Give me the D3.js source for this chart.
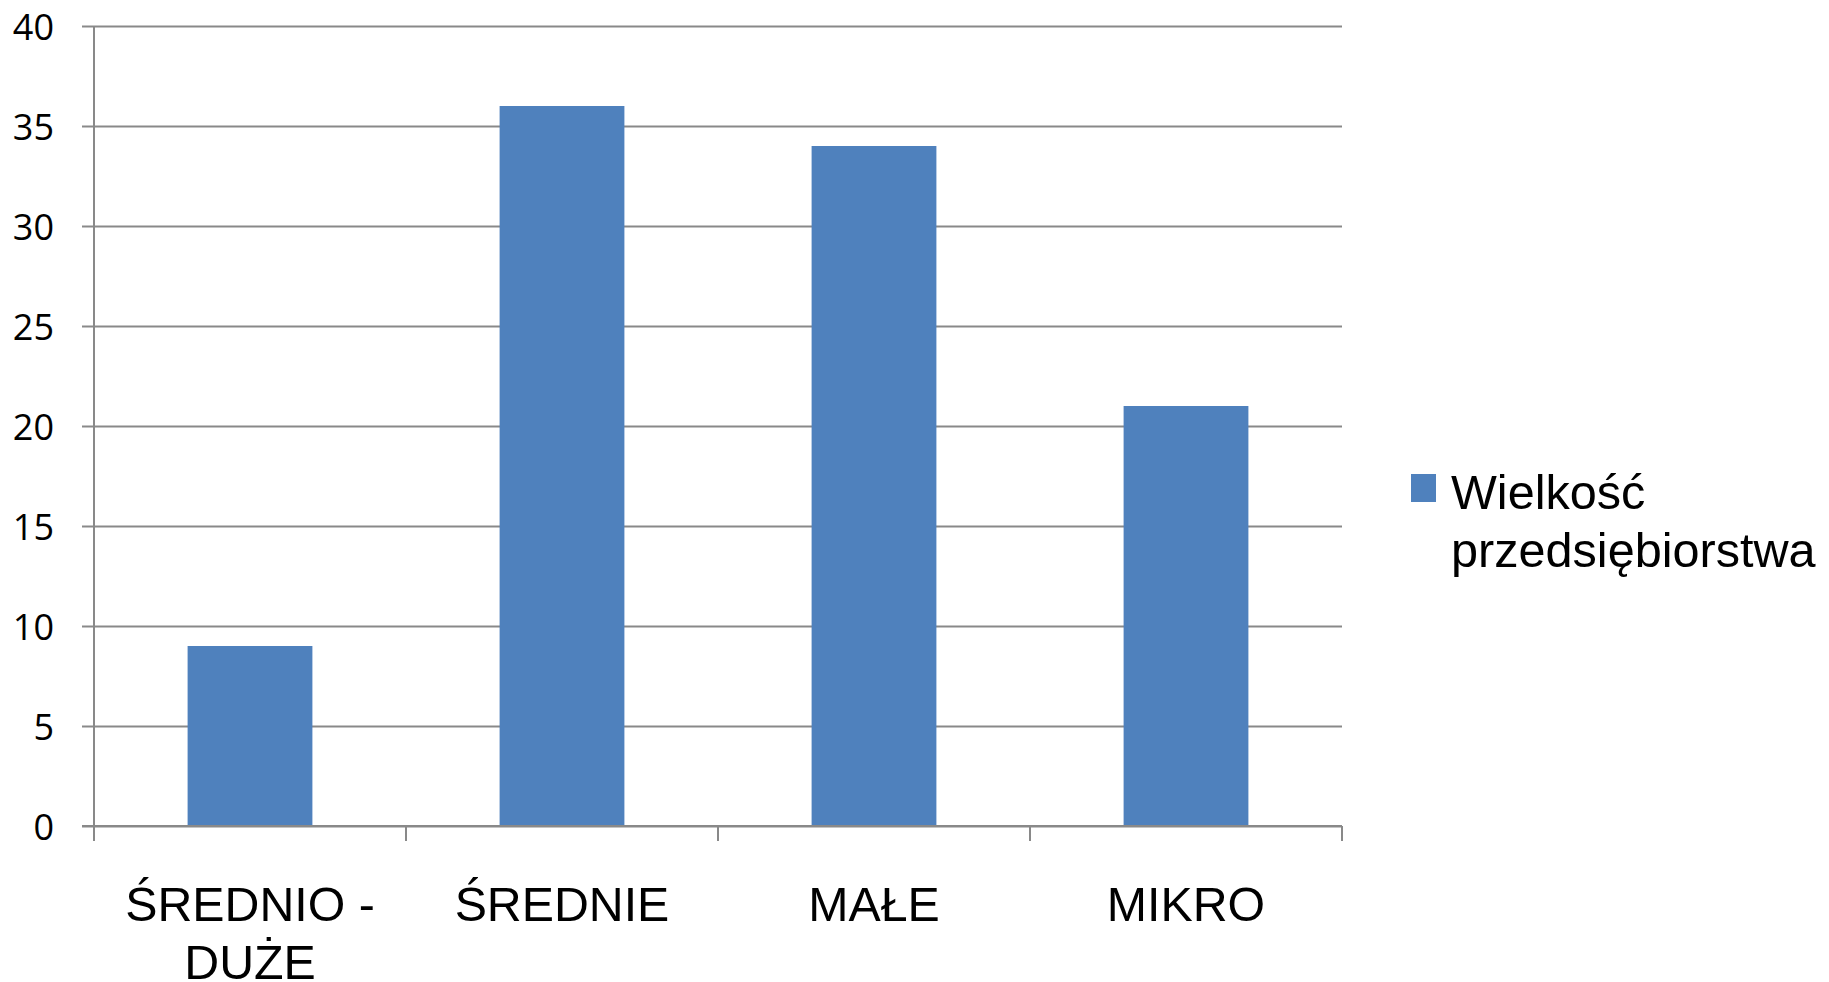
<!DOCTYPE html>
<html>
<head>
<meta charset="utf-8">
<script src="https://cdn.jsdelivr.net/npm/d3@7"></script>
<style>
  body { margin: 0; background: #fff; }
  svg { display: block; }
</style>
</head>
<body>
<svg id="chart" width="1829" height="982"></svg>
<script>
// data
const categories = ["ŚREDNIO - DUŻE", "ŚREDNIE", "MAŁE", "MIKRO"];
const values = [9, 36, 34, 21];
const yTicks = [0, 5, 10, 15, 20, 25, 30, 35, 40];
const seriesName = ["Wielkość", "przedsiębiorstwa"];

const width = 1829, height = 982;
const margin = { left: 94, top: 26, right: 487 };
const plotW = width - margin.left - margin.right; // 1248
const plotH = 800;

const svg = d3.select("#chart");
const g = svg.append("g").attr("transform", `translate(${margin.left},${margin.top})`);

const y = d3.scaleLinear().domain([0, 40]).range([plotH, 0]);

// category slots (tick marks sit on their edges)
const xSlot = d3.scaleBand().domain(categories).range([0, plotW]).padding(0);
// bars take 40% of each slot
const x = d3.scaleBand().domain(categories).range([0, plotW]).paddingInner(0.6).paddingOuter(0.3);

const gridColor = "#898989";

// horizontal gridlines
g.append("g")
    .call(d3.axisLeft(y).tickValues(yTicks).tickSize(-plotW).tickFormat(""))
    .call(a => a.select(".domain").remove())
    .call(a => a.selectAll("line").attr("stroke", gridColor).attr("stroke-width", 2));

// bars
g.selectAll("rect.bar")
    .data(values)
    .enter()
    .append("rect")
    .attr("class", "bar")
    .attr("x", (d, i) => x(categories[i]))
    .attr("y", d => y(d))
    .attr("width", x.bandwidth())
    .attr("height", d => plotH - y(d))
    .attr("fill", "#4F81BD");

// y axis with labels
const yAxis = g.append("g")
    .call(d3.axisLeft(y).tickValues(yTicks).tickSize(12).tickPadding(28).tickSizeOuter(0))
    .call(a => a.select(".domain").remove())
    .call(a => a.selectAll("line").attr("stroke", gridColor).attr("stroke-width", 2));
yAxis.selectAll("text")
    .attr("font-family", "'Open Sans', sans-serif")
    .attr("font-size", 36)
    .attr("fill", "#000")
    .attr("dy", "0.38em");

// vertical axis line, runs down to the tick marks
g.append("line")
    .attr("x1", 0).attr("x2", 0)
    .attr("y1", y(40)).attr("y2", plotH + 15)
    .attr("stroke", gridColor).attr("stroke-width", 2);

// x axis line
g.append("line")
    .attr("x1", -12).attr("x2", plotW)
    .attr("y1", plotH).attr("y2", plotH)
    .attr("stroke", gridColor).attr("stroke-width", 2);

// category edge ticks
const edges = categories.map(c => xSlot(c)).concat([plotW]);
g.selectAll("line.cattick")
    .data(edges)
    .enter()
    .append("line")
    .attr("class", "cattick")
    .attr("x1", d => d).attr("x2", d => d)
    .attr("y1", plotH).attr("y2", plotH + 15)
    .attr("stroke", gridColor).attr("stroke-width", 2);

// category labels, wrapped to the slot width
const labels = g.selectAll("text.cat")
    .data(categories)
    .enter()
    .append("text")
    .attr("class", "cat")
    .attr("x", d => xSlot(d) + xSlot.bandwidth() / 2)
    .attr("y", 895)
    .attr("text-anchor", "middle")
    .attr("font-family", "'Liberation Sans', Arial, sans-serif")
    .attr("font-size", 48.3)
    .attr("fill", "#000")
    .text(d => d);

labels.each(function(d) {
    const t = d3.select(this);
    const words = d.split(" ");
    const maxW = xSlot.bandwidth() - 20;
    const lines = [];
    let line = [];
    t.text(null);
    const probe = t.append("tspan");
    words.forEach(w => {
        line.push(w);
        probe.text(line.join(" "));
        if (probe.node().getComputedTextLength() > maxW && line.length > 1) {
            line.pop();
            lines.push(line.join(" "));
            line = [w];
        }
    });
    lines.push(line.join(" "));
    probe.remove();
    const cx = t.attr("x");
    lines.forEach((l, i) => {
        t.append("tspan").attr("x", cx).attr("dy", i === 0 ? 0 : 57.5).text(l);
    });
});

// legend
const legend = svg.append("g").attr("transform", "translate(1411,474)");
legend.append("rect")
    .attr("width", 25).attr("height", 28)
    .attr("fill", "#4F81BD");
legend.append("text")
    .attr("x", 40)
    .attr("y", 35.3)
    .attr("font-family", "'Liberation Sans', Arial, sans-serif")
    .attr("font-size", 48.6)
    .attr("fill", "#000")
    .selectAll("tspan")
    .data(seriesName)
    .enter()
    .append("tspan")
    .attr("x", 40)
    .attr("dy", (d, i) => i === 0 ? 0 : 57.4)
    .text(d => d);
</script>
</body>
</html>
